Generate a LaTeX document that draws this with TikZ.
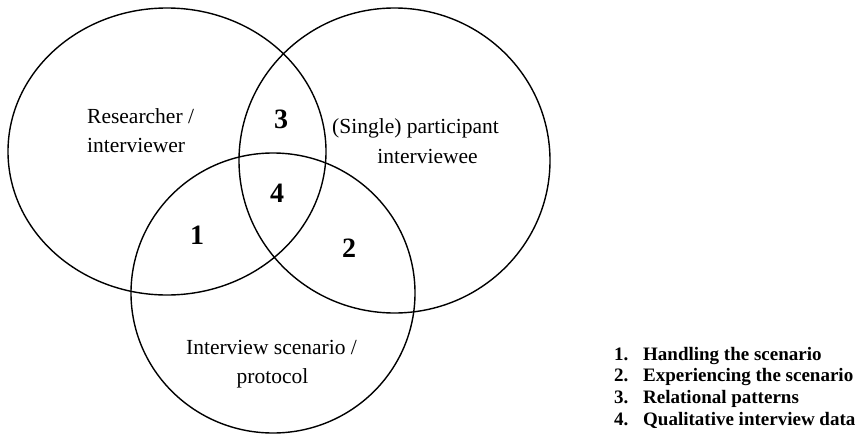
\documentclass[tikz,border=0pt]{standalone}
\usepackage{fontspec}
\setmainfont{Liberation Serif}
\begin{document}
\begin{tikzpicture}[x=1pt,y=-1pt,
  venn/.style={draw=black,line width=1.4pt},
  lbl/.style={inner sep=0pt,font=\fontsize{21.5}{29}\selectfont},
  num/.style={inner sep=0pt,font=\fontsize{28}{32}\selectfont\bfseries,anchor=base},
  leg/.style={inner sep=0pt,font=\fontsize{19}{22}\selectfont\bfseries,anchor=base west}]
\useasboundingbox (0,0) rectangle (864,434);
% circles
\draw[venn] (167,151.5) ellipse [x radius=159pt, y radius=143.5pt];
\draw[venn] (394.5,160.5) ellipse [x radius=155.5pt, y radius=152.5pt];
\draw[venn] (273,293) ellipse [x radius=142pt, y radius=140pt];
% circle labels
\node[lbl,anchor=base west] (r1) at (87,123) {Researcher /};
\node[lbl,anchor=base west] (r2) at (87,152) {interviewer};
\node[lbl,anchor=base] (p1) at (415.5,133) {(Single) participant};
\node[lbl,anchor=base] (p2) at (427.5,163) {interviewee};
\node[lbl,anchor=base] (s1) at (271.5,354) {Interview scenario /};
\node[lbl,anchor=base] (s2) at (272.5,383) {protocol};
% region numbers
\node[num] (n3) at (281,128) {3};
\node[num] (n4) at (277,202) {4};
\node[num] (n1) at (197,244) {1};
\node[num] (n2) at (349,257) {2};
% legend
\node[leg] (k1) at (614,360) {1.};
\node[leg] (t1) at (643,360) {Handling the scenario};
\node[leg] (k2) at (614,381.7) {2.};
\node[leg] (t2) at (643,381.7) {Experiencing the scenario};
\node[leg] (k3) at (614,403.4) {3.};
\node[leg] (t3) at (643,403.4) {Relational patterns};
\node[leg] (k4) at (614,425) {4.};
\node[leg] (t4) at (643,425) {Qualitative interview data};
\end{tikzpicture}
\end{document}
